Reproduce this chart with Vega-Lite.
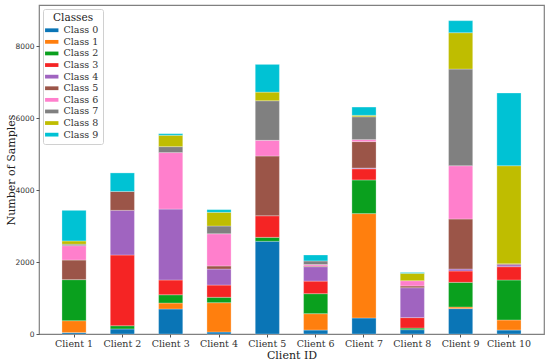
{
  "$schema": "https://vega.github.io/schema/vega-lite/v6.json",
  "width": 505,
  "height": 329,
  "autosize": {"type": "none"},
  "padding": {"left": 39, "top": 5, "right": 6, "bottom": 29},
  "background": "white",
  "config": {
    "view": {"stroke": "#808080", "strokeWidth": 1.2},
    "font": "DejaVu Serif"
  },
  "data": {
    "values": [
      {"client": "Client 1", "cls": "Class 0", "idx": 0, "n": 40},
      {"client": "Client 1", "cls": "Class 1", "idx": 1, "n": 330},
      {"client": "Client 1", "cls": "Class 2", "idx": 2, "n": 1140},
      {"client": "Client 1", "cls": "Class 5", "idx": 5, "n": 545},
      {"client": "Client 1", "cls": "Class 6", "idx": 6, "n": 400},
      {"client": "Client 1", "cls": "Class 7", "idx": 7, "n": 40},
      {"client": "Client 1", "cls": "Class 8", "idx": 8, "n": 90},
      {"client": "Client 1", "cls": "Class 9", "idx": 9, "n": 850},
      {"client": "Client 2", "cls": "Class 0", "idx": 0, "n": 140},
      {"client": "Client 2", "cls": "Class 2", "idx": 2, "n": 90},
      {"client": "Client 2", "cls": "Class 3", "idx": 3, "n": 1965},
      {"client": "Client 2", "cls": "Class 4", "idx": 4, "n": 1240},
      {"client": "Client 2", "cls": "Class 5", "idx": 5, "n": 525},
      {"client": "Client 2", "cls": "Class 9", "idx": 9, "n": 515},
      {"client": "Client 3", "cls": "Class 0", "idx": 0, "n": 695},
      {"client": "Client 3", "cls": "Class 1", "idx": 1, "n": 165},
      {"client": "Client 3", "cls": "Class 2", "idx": 2, "n": 230},
      {"client": "Client 3", "cls": "Class 3", "idx": 3, "n": 410},
      {"client": "Client 3", "cls": "Class 4", "idx": 4, "n": 1970},
      {"client": "Client 3", "cls": "Class 6", "idx": 6, "n": 1570},
      {"client": "Client 3", "cls": "Class 7", "idx": 7, "n": 165},
      {"client": "Client 3", "cls": "Class 8", "idx": 8, "n": 315},
      {"client": "Client 3", "cls": "Class 9", "idx": 9, "n": 45},
      {"client": "Client 4", "cls": "Class 0", "idx": 0, "n": 55},
      {"client": "Client 4", "cls": "Class 1", "idx": 1, "n": 815},
      {"client": "Client 4", "cls": "Class 2", "idx": 2, "n": 150},
      {"client": "Client 4", "cls": "Class 3", "idx": 3, "n": 340},
      {"client": "Client 4", "cls": "Class 4", "idx": 4, "n": 445},
      {"client": "Client 4", "cls": "Class 5", "idx": 5, "n": 85},
      {"client": "Client 4", "cls": "Class 6", "idx": 6, "n": 895},
      {"client": "Client 4", "cls": "Class 7", "idx": 7, "n": 215},
      {"client": "Client 4", "cls": "Class 8", "idx": 8, "n": 380},
      {"client": "Client 4", "cls": "Class 9", "idx": 9, "n": 75},
      {"client": "Client 5", "cls": "Class 0", "idx": 0, "n": 2575},
      {"client": "Client 5", "cls": "Class 2", "idx": 2, "n": 110},
      {"client": "Client 5", "cls": "Class 3", "idx": 3, "n": 600},
      {"client": "Client 5", "cls": "Class 5", "idx": 5, "n": 1660},
      {"client": "Client 5", "cls": "Class 6", "idx": 6, "n": 435},
      {"client": "Client 5", "cls": "Class 7", "idx": 7, "n": 1100},
      {"client": "Client 5", "cls": "Class 8", "idx": 8, "n": 240},
      {"client": "Client 5", "cls": "Class 9", "idx": 9, "n": 770},
      {"client": "Client 6", "cls": "Class 0", "idx": 0, "n": 110},
      {"client": "Client 6", "cls": "Class 1", "idx": 1, "n": 455},
      {"client": "Client 6", "cls": "Class 2", "idx": 2, "n": 555},
      {"client": "Client 6", "cls": "Class 3", "idx": 3, "n": 350},
      {"client": "Client 6", "cls": "Class 4", "idx": 4, "n": 400},
      {"client": "Client 6", "cls": "Class 5", "idx": 5, "n": 20},
      {"client": "Client 6", "cls": "Class 6", "idx": 6, "n": 40},
      {"client": "Client 6", "cls": "Class 7", "idx": 7, "n": 100},
      {"client": "Client 6", "cls": "Class 9", "idx": 9, "n": 165},
      {"client": "Client 7", "cls": "Class 0", "idx": 0, "n": 445},
      {"client": "Client 7", "cls": "Class 1", "idx": 1, "n": 2900},
      {"client": "Client 7", "cls": "Class 2", "idx": 2, "n": 935},
      {"client": "Client 7", "cls": "Class 3", "idx": 3, "n": 310},
      {"client": "Client 7", "cls": "Class 4", "idx": 4, "n": 20},
      {"client": "Client 7", "cls": "Class 5", "idx": 5, "n": 735},
      {"client": "Client 7", "cls": "Class 6", "idx": 6, "n": 55},
      {"client": "Client 7", "cls": "Class 7", "idx": 7, "n": 635},
      {"client": "Client 7", "cls": "Class 8", "idx": 8, "n": 40},
      {"client": "Client 7", "cls": "Class 9", "idx": 9, "n": 230},
      {"client": "Client 8", "cls": "Class 0", "idx": 0, "n": 120},
      {"client": "Client 8", "cls": "Class 2", "idx": 2, "n": 45},
      {"client": "Client 8", "cls": "Class 3", "idx": 3, "n": 290},
      {"client": "Client 8", "cls": "Class 4", "idx": 4, "n": 830},
      {"client": "Client 8", "cls": "Class 5", "idx": 5, "n": 50},
      {"client": "Client 8", "cls": "Class 6", "idx": 6, "n": 145},
      {"client": "Client 8", "cls": "Class 8", "idx": 8, "n": 205},
      {"client": "Client 8", "cls": "Class 9", "idx": 9, "n": 25},
      {"client": "Client 9", "cls": "Class 0", "idx": 0, "n": 705},
      {"client": "Client 9", "cls": "Class 1", "idx": 1, "n": 45},
      {"client": "Client 9", "cls": "Class 2", "idx": 2, "n": 685},
      {"client": "Client 9", "cls": "Class 3", "idx": 3, "n": 315},
      {"client": "Client 9", "cls": "Class 4", "idx": 4, "n": 55},
      {"client": "Client 9", "cls": "Class 5", "idx": 5, "n": 1390},
      {"client": "Client 9", "cls": "Class 6", "idx": 6, "n": 1480},
      {"client": "Client 9", "cls": "Class 7", "idx": 7, "n": 2685},
      {"client": "Client 9", "cls": "Class 8", "idx": 8, "n": 1010},
      {"client": "Client 9", "cls": "Class 9", "idx": 9, "n": 335},
      {"client": "Client 10", "cls": "Class 0", "idx": 0, "n": 110},
      {"client": "Client 10", "cls": "Class 1", "idx": 1, "n": 280},
      {"client": "Client 10", "cls": "Class 2", "idx": 2, "n": 1110},
      {"client": "Client 10", "cls": "Class 3", "idx": 3, "n": 370},
      {"client": "Client 10", "cls": "Class 4", "idx": 4, "n": 55},
      {"client": "Client 10", "cls": "Class 5", "idx": 5, "n": 25},
      {"client": "Client 10", "cls": "Class 8", "idx": 8, "n": 2725},
      {"client": "Client 10", "cls": "Class 9", "idx": 9, "n": 2020}
    ]
  },
  "mark": {"type": "bar", "stroke": "white", "strokeWidth": 0.4, "strokeOpacity": 0.7},
  "encoding": {
    "x": {
      "field": "client",
      "type": "nominal",
      "sort": ["Client 1", "Client 2", "Client 3", "Client 4", "Client 5", "Client 6", "Client 7", "Client 8", "Client 9", "Client 10"],
      "scale": {"paddingInner": 0.5, "paddingOuter": 0.475},
      "axis": {
        "title": "Client ID",
        "titleFont": "DejaVu Serif",
        "titleFontSize": 11,
        "titleFontWeight": "normal",
        "titleColor": "#222",
        "titlePadding": 2,
        "labelAngle": 0,
        "labelFont": "DejaVu Serif",
        "labelFontSize": 9.5,
        "labelColor": "#333",
        "labelPadding": 1,
        "domain": false,
        "ticks": true,
        "tickSize": 3,
        "tickColor": "#555",
        "grid": false
      }
    },
    "y": {
      "field": "n",
      "type": "quantitative",
      "stack": "zero",
      "scale": {"domain": [0, 9140], "nice": false, "zero": true},
      "axis": {
        "title": "Number of Samples",
        "titleFont": "DejaVu Serif",
        "titleFontSize": 11,
        "titleFontWeight": "normal",
        "titleColor": "#222",
        "titleX": -23,
        "titleBaseline": "bottom",
        "values": [0, 2000, 4000, 6000, 8000],
        "labelFont": "DejaVu Sans",
        "labelFontSize": 7.5,
        "labelColor": "#333",
        "labelPadding": 2,
        "domain": false,
        "ticks": true,
        "tickSize": 3,
        "tickColor": "#555",
        "grid": false,
        "format": "d"
      }
    },
    "color": {
      "field": "cls",
      "type": "nominal",
      "scale": {
        "domain": ["Class 0", "Class 1", "Class 2", "Class 3", "Class 4", "Class 5", "Class 6", "Class 7", "Class 8", "Class 9"],
        "range": ["#0a75b6", "#ff7f0e", "#0aa01e", "#f52424", "#a064c0", "#9b5548", "#ff7fcc", "#808080", "#bfbd00", "#00c2d4"]
      },
      "legend": {
        "title": "Classes",
        "orient": "none",
        "legendX": 4,
        "legendY": 4,
        "titleFont": "DejaVu Serif",
        "titleFontSize": 10.5,
        "titleFontWeight": "normal",
        "titleColor": "#222",
        "titleAnchor": "middle",
        "titlePadding": 2,
        "labelFont": "DejaVu Serif",
        "labelFontSize": 9.5,
        "labelColor": "#333",
        "labelOffset": 7,
        "rowPadding": 0.6,
        "symbolType": "M-1.6,-0.45H1.6V0.45H-1.6Z",
        "symbolSize": 70,
        "symbolStrokeWidth": 0,
        "symbolOpacity": 1,
        "padding": 4,
        "fillColor": "white",
        "strokeColor": "#d0d0d0",
        "cornerRadius": 2
      }
    },
    "order": {"field": "idx", "type": "quantitative", "sort": "ascending"}
  }
}
